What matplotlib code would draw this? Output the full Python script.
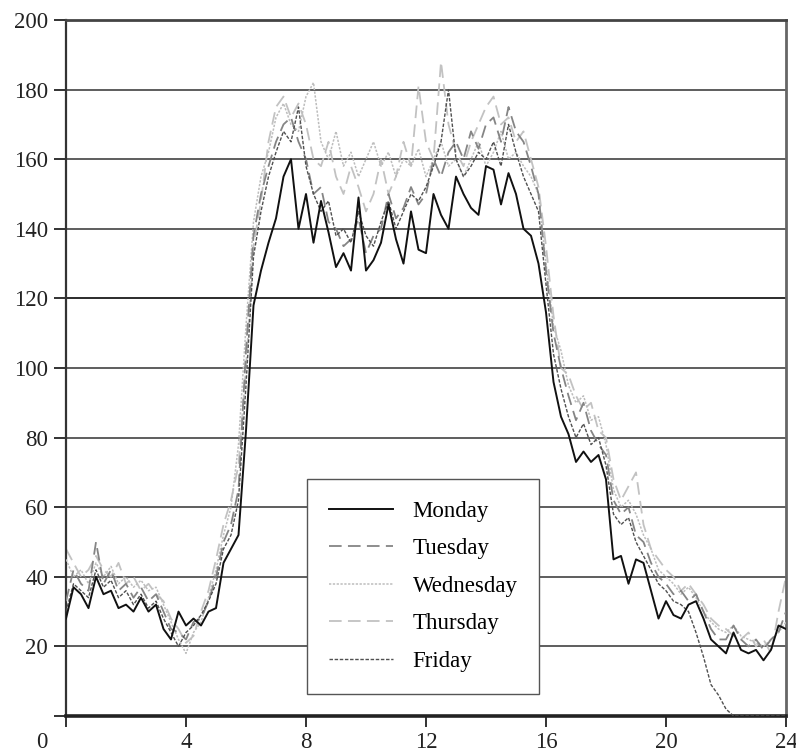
import matplotlib
matplotlib.use("Agg")
import matplotlib.pyplot as plt
import numpy as np
from matplotlib.transforms import ScaledTranslation

plt.rcParams['font.family'] = ['Liberation Serif', 'DejaVu Serif']

hours = np.arange(0, 24.01, 0.25)

monday = [28, 37, 35, 31, 40, 35, 36, 31, 32, 30, 34, 30, 32, 25, 22, 30, 26, 28, 26, 30,
          31, 44, 48, 52, 82, 118, 128, 136, 143, 155, 160, 140, 150, 136, 148, 139, 129, 133, 128, 149,
          128, 131, 136, 147, 137, 130, 145, 134, 133, 150, 144, 140, 155, 150, 146, 144, 158, 157, 147, 156,
          150, 140, 138, 130, 116, 96, 86, 81, 73, 76, 73, 75, 68, 45, 46, 38, 45, 44, 36, 28,
          33, 29, 28, 32, 33, 28, 22, 20, 18, 24, 19, 18, 19, 16, 19, 26, 25]
tuesday = [33, 42, 38, 36, 50, 38, 42, 36, 38, 34, 37, 33, 35, 30, 25, 24, 22, 27, 28, 33,
           40, 50, 55, 65, 105, 138, 150, 158, 165, 170, 172, 165, 160, 150, 152, 142, 140, 135, 137, 143,
           133, 138, 140, 150, 143, 146, 152, 147, 150, 160, 155, 162, 165, 160, 168, 163, 170, 172, 165, 175,
           168, 165, 158, 150, 128, 110, 100, 92, 85, 90, 82, 78, 75, 62, 58, 60, 52, 50, 44, 40,
           38, 35, 36, 33, 35, 30, 25, 22, 22, 26, 22, 20, 22, 19, 22, 24, 30]
wednesday = [45, 40, 42, 38, 44, 40, 43, 38, 40, 37, 39, 36, 37, 32, 27, 22, 18, 24, 27, 34,
             42, 52, 60, 78, 112, 142, 155, 162, 172, 176, 170, 168, 178, 182, 165, 160, 168, 158, 162, 155,
             160, 165, 158, 162, 155, 160, 158, 163, 155, 160, 165, 158, 160, 155, 160, 165, 158, 162, 168, 160,
             162, 158, 155, 150, 130, 112, 105, 95, 90, 92, 85, 86, 78, 65, 60, 62, 58, 52, 48, 42,
             40, 38, 35, 37, 34, 30, 27, 25, 24, 26, 23, 22, 21, 20, 22, 24, 27]
thursday = [48, 44, 40, 42, 46, 42, 40, 44, 38, 40, 36, 38, 35, 33, 28, 25, 21, 23, 30, 36,
            45, 55, 62, 72, 100, 135, 148, 165, 175, 178, 172, 176, 170, 160, 158, 165, 155, 150, 158, 152,
            145, 150, 160, 150, 155, 165, 158, 181, 165, 160, 188, 170, 162, 158, 165, 170, 175, 178, 170, 172,
            165, 168, 160, 152, 135, 115, 100, 98, 92, 88, 90, 82, 80, 68, 62, 66, 70, 55, 48, 45,
            42, 40, 36, 38, 35, 32, 28, 26, 25, 23, 22, 24, 20, 22, 18, 30, 40]
friday = [30, 38, 36, 34, 42, 37, 39, 34, 36, 32, 35, 31, 33, 28, 24, 20, 24, 26, 29, 33,
          38, 48, 52, 62, 95, 132, 145, 155, 162, 168, 165, 175, 158, 150, 145, 148, 138, 140, 136, 145,
          138, 135, 142, 148, 140, 145, 150, 148, 152, 158, 165, 180, 160, 155, 158, 162, 160, 165, 158, 170,
          162, 155, 150, 145, 124, 104, 94, 86, 80, 84, 78, 80, 72, 58, 55, 57, 50, 46, 42, 38,
          36, 33, 32, 30, 24, 17, 9, 6, 2, 0, 0, 0, 0, 0, 0, 0, 0]

series = [
    ("Monday", monday, dict(color="#111111", lw=1.4, linestyle="-", zorder=6)),
    ("Tuesday", tuesday, dict(color="#858585", lw=1.3, linestyle=(0, (7, 3.5)), zorder=4)),
    ("Wednesday", wednesday, dict(color="#bdbdbd", lw=1.1, linestyle=(0, (1.5, 1)), zorder=3)),
    ("Thursday", thursday, dict(color="#c2c2c2", lw=1.3, linestyle=(0, (7, 3.5)), zorder=2)),
    ("Friday", friday, dict(color="#505050", lw=1.0, linestyle=(0, (2.5, 1.2)), zorder=5)),
]

fig = plt.figure(figsize=(7.96, 7.53), dpi=100)
ax = fig.add_axes([66/796, 37/753, 720/796, 696/753])

for name, vals, st in series:
    ax.plot(hours, vals, label=name, **st)

ax.set_xlim(0, 24)
ax.set_ylim(0, 200)
ax.set_xticks(np.arange(0, 25, 4))
ax.set_xticklabels([str(v) for v in range(0, 25, 4)])
ax.set_yticks(np.arange(0, 201, 20))
ax.set_yticklabels([''] + [str(v) for v in range(20, 201, 20)])

ax.yaxis.grid(True, color="#505050", lw=1.3)
ax.set_axisbelow(True)
for gl, v in zip(ax.get_ygridlines(), range(0, 201, 20)):
    if v == 120:
        gl.set_color("#1a1a1a")

ax.tick_params(axis='both', direction='out', labelsize=16.5, colors="#222222", width=1.3)
ax.tick_params(axis='x', length=8, pad=3.5)
ax.tick_params(axis='y', length=9, pad=4)

lbl0 = ax.get_xticklabels()[0]
lbl0.set_transform(lbl0.get_transform() + ScaledTranslation(-24/100, 0, fig.dpi_scale_trans))

ax.spines['bottom'].set_linewidth(2.6)
ax.spines['bottom'].set_color("#222222")
ax.spines['left'].set_linewidth(1.6)
ax.spines['left'].set_color("#333333")
ax.spines['top'].set_linewidth(2.0)
ax.spines['top'].set_color("#444444")
ax.spines['right'].set_linewidth(2.0)
ax.spines['right'].set_color("#666666")

leg = ax.legend(loc='lower left', bbox_to_anchor=(0.335, 0.032), borderaxespad=0,
                fontsize=16.5, frameon=True, fancybox=False, edgecolor="#555555",
                handlelength=2.8, handletextpad=0.85, labelspacing=0.72, borderpad=0.95)
leg.get_frame().set_linewidth(1.0)
leg.get_frame().set_alpha(1)
leg.set_zorder(10)

fig.savefig("out.png", dpi=100)
